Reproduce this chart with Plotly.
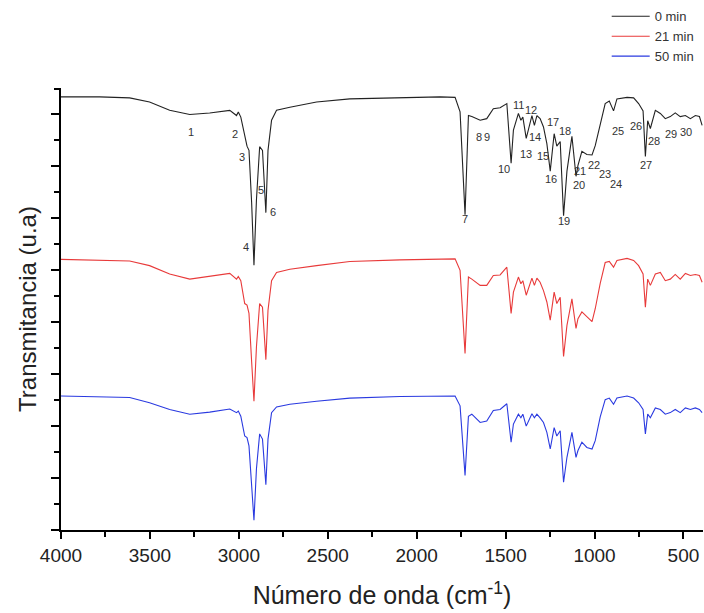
import plotly.graph_objects as go

# Wavenumber samples (cm^-1), shared by the three spectra
wavenumber = [4000, 3783, 3614, 3502, 3389, 3276, 3164, 3051, 3013, 3003,
              2989, 2967, 2954, 2943, 2928, 2915, 2901, 2883, 2867, 2848,
              2836, 2816, 2788, 2713, 2563, 2376, 2094, 1869, 1784, 1756,
              1728, 1709, 1690, 1643, 1606, 1569, 1531, 1493, 1469, 1456,
              1428, 1414, 1403, 1384, 1352, 1338, 1324, 1306, 1287, 1268,
              1249, 1227, 1212, 1193, 1174, 1155, 1127, 1104, 1093, 1071,
              1043, 1014, 996, 968, 940, 917, 893, 874, 817, 780,
              752, 727, 714, 701, 686, 658, 630, 602, 574, 546,
              518, 489, 461, 433, 410, 395]

# Transmittance (arbitrary units, vertically offset spectra)
t_0min = [83.4, 83.4, 83.2, 82.4, 80.8, 80.0, 80.3, 80.8, 79.8, 80.5,
          79.5, 75.8, 73.9, 73.1, 63.0, 51.0, 63.6, 73.8, 73.1, 61.1,
          73.1, 78.9, 80.8, 81.4, 82.4, 83.0, 83.3, 83.4, 83.3, 80.5,
          60.7, 79.8, 79.6, 78.9, 79.2, 81.1, 81.3, 82.1, 70.6, 77.0,
          80.2, 78.9, 79.5, 75.4, 79.8, 77.9, 79.8, 79.2, 77.6, 74.4,
          69.1, 76.3, 73.9, 74.8, 60.5, 69.1, 75.8, 68.1, 70.2, 72.9,
          72.3, 72.2, 74.0, 78.2, 82.1, 82.6, 80.7, 83.0, 83.3, 83.2,
          82.1, 80.7, 71.9, 78.8, 77.3, 80.8, 80.2, 79.2, 79.6, 80.3,
          79.6, 79.8, 79.2, 79.8, 79.6, 77.9]

t_21min = [52.1, 52.0, 51.8, 50.9, 49.3, 48.3, 48.8, 49.4, 48.3, 48.8,
           48.0, 43.6, 43.3, 41.7, 32.4, 24.8, 35.3, 43.6, 42.9, 32.8,
           42.3, 48.0, 49.6, 50.2, 50.9, 51.7, 52.0, 52.1, 52.2, 50.0,
           34.0, 48.7, 48.3, 47.1, 47.1, 49.0, 49.1, 50.6, 41.7, 45.8,
           48.7, 47.4, 48.0, 45.2, 48.5, 47.1, 48.5, 47.7, 46.1, 43.9,
           40.4, 45.8, 43.6, 44.8, 33.4, 39.4, 44.5, 38.8, 40.7, 42.0,
           41.0, 40.1, 42.6, 47.5, 51.5, 51.7, 50.6, 51.9, 52.3, 51.9,
           50.9, 49.3, 42.9, 48.3, 47.1, 49.3, 49.6, 48.0, 48.3, 49.2,
           48.3, 49.4, 49.0, 49.2, 49.0, 47.7]

t_50min = [25.8, 25.7, 25.5, 24.5, 23.2, 22.3, 22.7, 23.3, 22.6, 22.9,
           21.9, 18.1, 17.8, 16.2, 8.6, 1.9, 11.8, 18.5, 17.5, 8.7,
           17.5, 22.6, 23.7, 24.2, 24.8, 25.4, 25.7, 25.8, 25.8, 23.9,
           10.5, 21.9, 22.3, 20.7, 21.0, 23.0, 23.2, 24.3, 16.9, 20.4,
           22.3, 21.6, 22.3, 20.0, 22.4, 21.6, 22.3, 21.6, 20.7, 18.8,
           15.6, 19.7, 18.1, 19.1, 9.2, 14.0, 18.8, 14.0, 15.3, 16.9,
           15.9, 15.6, 17.2, 21.8, 25.1, 25.4, 24.2, 25.4, 25.8, 25.4,
           24.5, 23.2, 18.5, 22.3, 21.6, 23.5, 23.2, 22.3, 22.6, 23.2,
           22.6, 23.5, 23.2, 23.5, 23.2, 22.6]

series_names = ["0 min", "21 min", "50 min"]
series_colors = ["#222222", "#e83a3a", "#2a3ae0"]

# Peak labels on the 0 min spectrum
peak_labels = [str(i) for i in range(1, 31)]
peak_label_wn = [3271, 3023, 2980, 2959, 2873, 2807, 1728, 1649, 1602, 1507,
                 1428, 1356, 1384, 1334, 1290, 1245, 1232, 1168, 1174, 1090,
                 1080, 1002, 940, 878, 870, 769, 710, 664, 572, 485]
peak_label_t = [76.7, 76.2, 71.8, 54.4, 65.5, 61.2, 59.8, 75.6, 75.7, 69.5,
                81.9, 80.9, 72.4, 75.7, 72.0, 67.6, 78.5, 76.9, 59.5, 66.4,
                69.1, 70.3, 68.6, 66.7, 76.8, 77.8, 70.2, 74.9, 76.3, 76.7]

x_tick_vals = [4000, 3500, 3000, 2500, 2000, 1500, 1000, 500]
x_tick_text = ["4000", "3500", "3000", "2500", "2000", "1500", "1000", "500"]

FONT = "Liberation Sans, Arial, sans-serif"

fig = go.Figure()
for name, color, ys in zip(series_names, series_colors, [t_0min, t_21min, t_50min]):
    fig.add_trace(go.Scatter(x=wavenumber, y=ys, mode="lines", name=name,
                             line=dict(color=color, width=1.1)))

for lab, wn, t in zip(peak_labels, peak_label_wn, peak_label_t):
    fig.add_annotation(x=wn, y=t, text=lab, showarrow=False,
                       font=dict(family=FONT, size=11, color="#333333"))

fig.update_layout(
    width=704, height=613,
    margin=dict(l=61, r=1, t=84, b=83),
    paper_bgcolor="white", plot_bgcolor="white",
    font=dict(family=FONT, color="#222222"),
    showlegend=True,
    legend=dict(x=0.850, y=1.196, xanchor="left", yanchor="top",
                itemwidth=38,
                font=dict(family=FONT, size=13, color="#333333"),
                bgcolor="rgba(0,0,0,0)", borderwidth=0, tracegroupgap=0),
    xaxis=dict(range=[4000, 390], autorange=False,
               tickvals=x_tick_vals, ticktext=x_tick_text,
               ticks="outside", ticklen=7, tickwidth=1.5, tickcolor="black",
               minor=dict(dtick=250, tick0=0, ticks="outside", ticklen=5,
                          tickwidth=1.5, tickcolor="black"),
               showline=True, linecolor="black", linewidth=1.5,
               showgrid=False, zeroline=False,
               tickfont=dict(family=FONT, size=19, color="#222222"),
               title=dict(text="Número de onda (cm<sup>-1</sup>)",
                          font=dict(family=FONT, size=25, color="#222222"),
                          standoff=22)),
    yaxis=dict(range=[0, 85.1], autorange=False, dtick=10, tick0=0,
               showticklabels=False,
               ticks="outside", ticklen=8, tickwidth=1.5, tickcolor="black",
               minor=dict(dtick=5, tick0=0, ticks="outside", ticklen=5,
                          tickwidth=1.5, tickcolor="black"),
               showline=True, linecolor="black", linewidth=1.5,
               showgrid=False, zeroline=False,
               title=dict(text="Transmitancia (u.a)",
                          font=dict(family=FONT, size=24, color="#222222"),
                          standoff=8)),
)

fig.write_html("out.html",
               config={"displayModeBar": False},
               post_script="document.body.style.margin='0';document.body.style.overflow='hidden';")
